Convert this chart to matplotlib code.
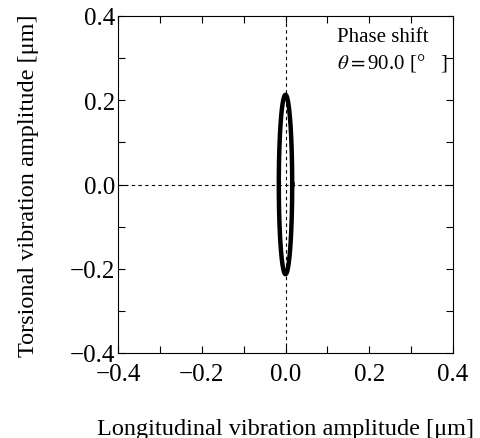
import numpy as np
import matplotlib.pyplot as plt
from matplotlib.ticker import MultipleLocator

plt.rcParams['font.family'] = ['Liberation Serif', 'DejaVu Serif']
plt.rcParams['mathtext.fontset'] = 'stix'

# vibration amplitudes [um] and phase shift [deg]
amp_long = 0.016
amp_tors = 0.213
phase_deg = 90.0
ticks = [-0.4, -0.2, 0.0, 0.2, 0.4]
tick_labels = ['\u22120.4', '\u22120.2', '0.0', '0.2', '0.4']

t = np.linspace(0, 2 * np.pi, 400)
x = amp_long * np.sin(t + np.radians(phase_deg))
y = amp_tors * np.sin(t)

fig = plt.figure(figsize=(4.8, 4.39), dpi=100)
ax = fig.add_axes([118 / 480, 1 - 354 / 439, 335 / 480, 337 / 439])

ax.axhline(0, color='k', ls=(0, (3, 3)), lw=0.8)
ax.axvline(0, color='k', ls=(0, (3, 3)), lw=0.8)
ax.plot(x, y, color='k', lw=3.2)

ax.set_xlim(-0.4, 0.4)
ax.set_ylim(-0.4, 0.4)
ax.set_xticks(ticks)
ax.set_yticks(ticks)
ax.xaxis.set_minor_locator(MultipleLocator(0.1))
ax.yaxis.set_minor_locator(MultipleLocator(0.1))
ax.set_xticklabels(tick_labels)
ax.set_yticklabels(tick_labels)
ax.tick_params(which='both', direction='in', top=True, right=True,
               labelsize=18, width=0.8)
ax.tick_params(which='major', length=5, pad=2)
ax.tick_params(axis='x', which='major', pad=7)
ax.tick_params(which='minor', length=5)
for s in ax.spines.values():
    s.set_linewidth(0.8)

ax.set_xlabel('Longitudinal vibration amplitude [\u03bcm]', fontsize=17.5, labelpad=24)
ax.set_ylabel('Torsional vibration amplitude [\u03bcm]', fontsize=17.5, labelpad=22)

ax.text(0.123, 0.375, 'Phase shift\n$\\theta = $90.0 [\u00b0   ]', fontsize=15,
        va='top', ha='left', linespacing=1.35)

fig.savefig('out.png', dpi=100)
